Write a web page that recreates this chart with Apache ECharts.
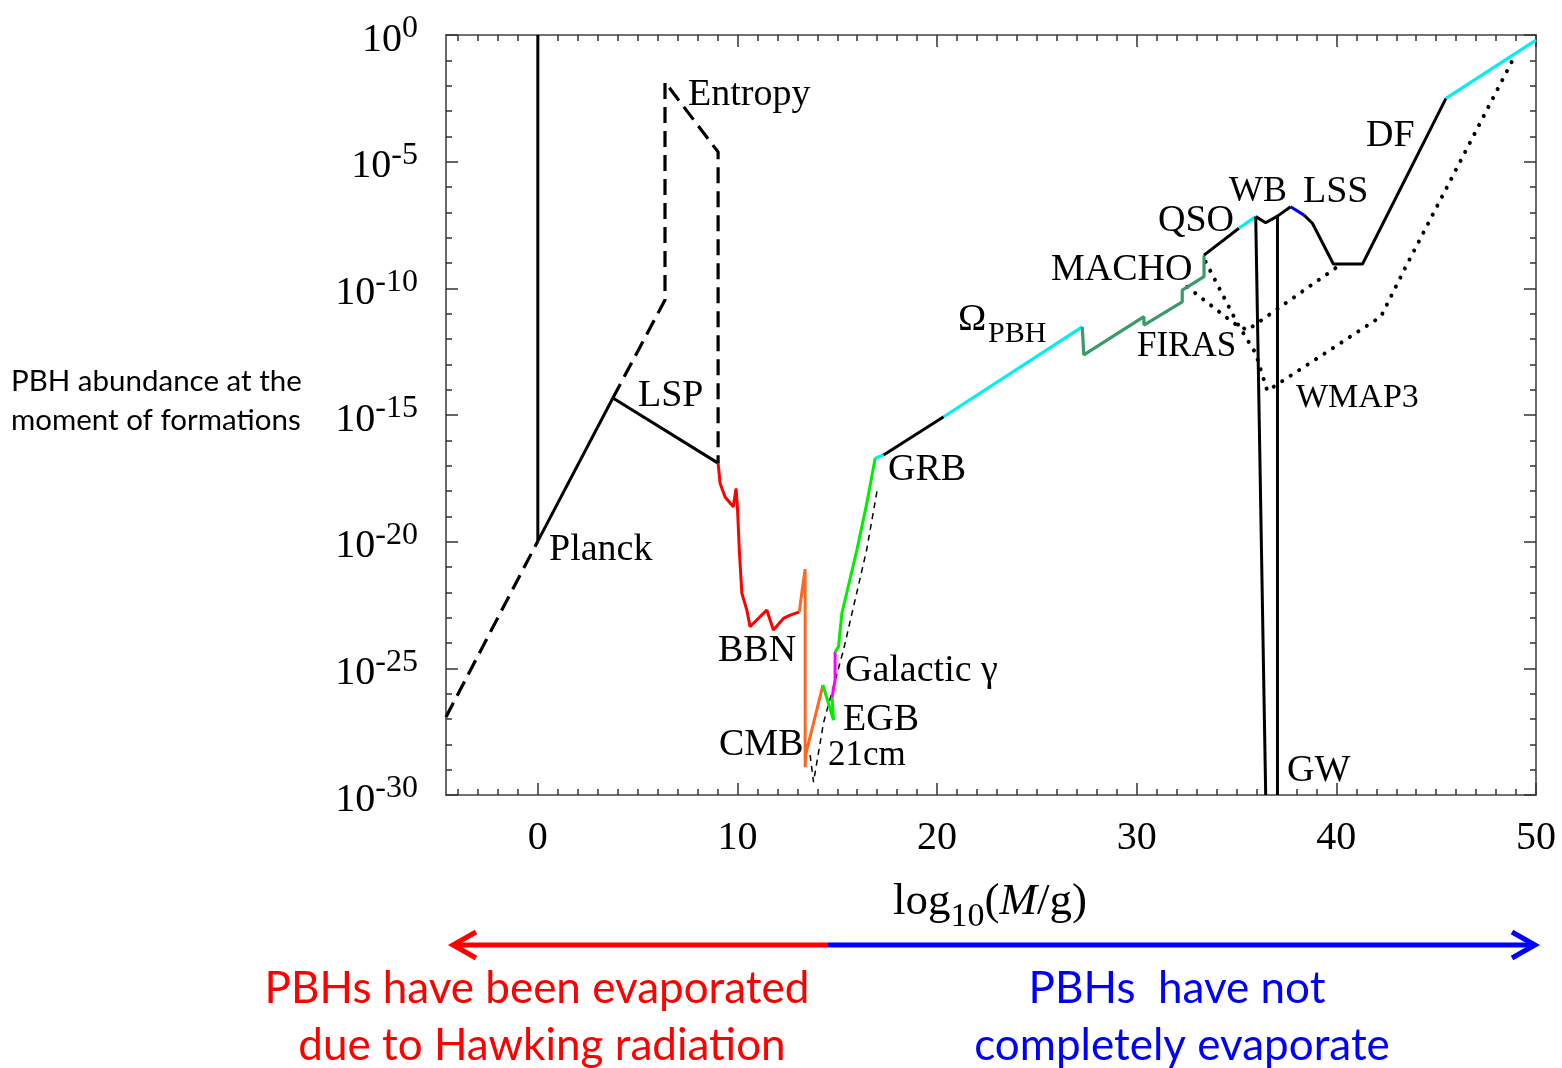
<!DOCTYPE html>
<html>
<head>
<meta charset="utf-8">
<script src="https://cdn.jsdelivr.net/npm/echarts@6/dist/echarts.min.js"></script>
<style>
html, body { margin: 0; padding: 0; background: #fff; }
#chart { width: 1562px; height: 1068px; }
</style>
</head>
<body>
<div id="chart"></div>
<script>
// x = log10(M/g), y = log10(PBH abundance at formation)
const xMajorTicks = [0, 10, 20, 30, 40, 50];
const xMinorTicks = [-4, -3, -2, -1, 0, 1, 2, 3, 4, 5, 6, 7, 8, 9, 10, 11, 12, 13, 14, 15, 16, 17, 18, 19, 20,
  21, 22, 23, 24, 25, 26, 27, 28, 29, 30, 31, 32, 33, 34, 35, 36, 37, 38, 39, 40, 41, 42, 43, 44, 45, 46, 47, 48, 49, 50];

const planckLimit = [[0, 0], [0, -19.98]];
const lowMassExtension = [[-4.6, -26.92], [0, -19.98]];
const planckToLsp = [[0, -19.98], [3.76, -14.33]];
const entropyBound = [[3.76, -14.33], [6.37, -10.46], [6.37, -1.86], [9.03, -4.62], [9.03, -16.90]];
const lspBound = [[3.76, -14.33], [9.03, -16.90]];
const bbnBound = [[9.03, -16.90], [9.13, -17.69], [9.38, -18.24], [9.79, -18.62], [9.93, -17.90], [10.0, -18.67],
  [10.1, -20.45], [10.22, -22.03], [10.47, -22.70], [10.63, -23.36], [10.88, -23.16], [11.30, -22.83],
  [11.47, -22.70], [11.80, -23.49], [12.30, -23.03], [12.64, -22.90], [13.10, -22.77]];
const cmbBound = [[13.10, -22.77], [13.22, -22.03], [13.39, -21.09], [13.39, -28.90], [13.42, -28.40], [14.28, -25.66]];
const egbBound = [[14.28, -25.66], [14.81, -27.04], [14.74, -26.14]];
const galacticBound = [[14.74, -26.14], [14.89, -25.46], [14.89, -24.36]];
const gammaBound = [[14.89, -24.36], [15.06, -24.15], [15.23, -22.83], [15.98, -20.33], [16.48, -18.48], [16.90, -16.70]];
const grbJoin = [[16.90, -16.70], [17.32, -16.58]];
const grbBound = [[17.32, -16.58], [20.33, -15.07]];
const omegaBound = [[20.33, -15.07], [27.27, -11.52]];
const machoBound = [[27.27, -11.52], [27.35, -12.63], [30.36, -11.12], [30.36, -11.45], [32.28, -10.53],
  [32.28, -10.07], [33.37, -9.54], [33.37, -8.69]];
const qsoBound = [[33.37, -8.69], [35.12, -7.63]];
const wbBound = [[35.12, -7.63], [35.96, -7.17]];
const wbLssBound = [[35.96, -7.17], [36.46, -7.41], [37.05, -7.15], [37.71, -6.78]];
const lssBound = [[37.71, -6.78], [38.38, -7.11]];
const dfBound = [[38.38, -7.11], [38.80, -7.43], [39.85, -9.04], [41.31, -9.04], [45.49, -2.50]];
const dfUpper = [[45.49, -2.50], [50, -0.2]];
const gwLeft = [[35.96, -7.17], [36.46, -30]];
const gwRight = [[37.05, -7.15], [37.05, -30]];
const wmap3Bound = [[33.45, -8.95], [35.04, -11.38], [35.96, -12.57], [36.54, -14.05], [42.23, -11.12],
  [43.39, -9.28], [48.83, -0.99]];
const firasBound = [[32.53, -9.94], [34.85, -11.37], [35.54, -11.65], [40.05, -9.15]];
const cm21Bound = [[13.64, -28.42], [13.81, -29.49], [14.31, -27.15], [15.31, -24.28], [16.47, -20.33], [17.0, -17.96]];

const serif = '"Liberation Serif", "Times New Roman", serif';
const sans = 'Lato, "Open Sans", sans-serif';

const dotted = [0.1, 10];
const dashed = [16, 8];

function line(data, color, width, type, z) {
  return {
    type: 'line',
    data: data,
    symbol: 'none',
    animation: false,
    z: z || 2,
    lineStyle: { color: color, width: width, type: type || 'solid', cap: type === dotted ? 'round' : 'butt' }
  };
}

function label(text, x, y, size) {
  return {
    type: 'text', x: x, y: y, z: 10,
    style: { text: text, font: (size || 38) + 'px ' + serif, fill: '#000', verticalAlign: 'middle' }
  };
}

const myCharts = echarts.init(document.getElementById('chart'));

const tickBase = { show: true, inside: true, lineStyle: { color: '#333', width: 1.5 } };
const axisLineStyle = { show: true, onZero: false, lineStyle: { color: '#444', width: 1.6 } };

function xAxisPair(position, withLabels) {
  return [{
    type: 'value', position: position, min: -4.6, max: 50,
    axisLine: axisLineStyle,
    axisTick: Object.assign({}, tickBase, { length: 12, customValues: xMajorTicks }),
    axisLabel: withLabels ? {
      show: true, customValues: xMajorTicks, margin: 23,
      fontSize: 40, fontFamily: serif, color: '#000'
    } : { show: false },
    splitLine: { show: false }
  }, {
    type: 'value', position: position, min: -4.6, max: 50,
    axisLine: { show: false, onZero: false },
    axisTick: Object.assign({}, tickBase, { length: 6, customValues: xMinorTicks }),
    axisLabel: { show: false },
    splitLine: { show: false }
  }];
}

function yAxis(position, withLabels) {
  return {
    type: 'value', position: position, min: -30, max: 0, interval: 5,
    axisLine: axisLineStyle,
    axisTick: Object.assign({}, tickBase, { length: 12 }),
    minorTick: { show: true, splitNumber: 5, length: 6, lineStyle: { color: '#333', width: 1.5 } },
    splitLine: { show: false },
    minorSplitLine: { show: false },
    axisLabel: withLabels ? {
      show: true, margin: 28,
      formatter: function (v) { return '{b|10}{s|' + v + '}'; },
      rich: {
        b: { fontSize: 40, fontFamily: serif, color: '#000', padding: [10, 0, 0, 0] },
        s: { fontSize: 32, fontFamily: serif, color: '#000', padding: [0, 0, 12, 0] }
      }
    } : { show: false }
  };
}

const option = {
  backgroundColor: '#fff',
  animation: false,
  grid: { left: 446, top: 35, width: 1090, height: 760, containLabel: false },
  xAxis: xAxisPair('bottom', true).concat(xAxisPair('top', false)),
  yAxis: [yAxis('left', true), yAxis('right', false)],
  series: [
    line(planckLimit, '#000', 3),
    line(lowMassExtension, '#000', 3.2, dashed),
    line(planckToLsp, '#000', 3),
    line(entropyBound, '#000', 3.2, dashed),
    line(lspBound, '#000', 3),
    line(bbnBound, '#ff0000', 3),
    line(cmbBound, '#ff6620', 3),
    line(egbBound, '#00ee00', 3),
    line(galacticBound, '#ff00ff', 3),
    line(gammaBound, '#00ee00', 3),
    line(grbJoin, '#00eeee', 3),
    line(grbBound, '#000', 3),
    line(omegaBound, '#00f0f0', 3.2),
    line(machoBound, '#3c9a68', 3.2),
    line(qsoBound, '#000', 3),
    line(wbBound, '#00f0f0', 3.2),
    line(wbLssBound, '#000', 3),
    line(lssBound, '#0000ff', 3),
    line(dfBound, '#000', 3),
    line(dfUpper, '#00f0f0', 3.2),
    line(wmap3Bound, '#000', 4, dotted, 1),
    line(firasBound, '#000', 4, dotted, 1),
    line(cm21Bound, '#000', 1.5, [6, 5], 1),
    line(gwLeft, '#000', 3, 'solid', 3),
    line(gwRight, '#000', 3, 'solid', 3)
  ],
  graphic: [
    label('Entropy', 688, 95),
    label('LSP', 638, 396),
    label('Planck', 549, 550),
    label('BBN', 718, 651),
    label('CMB', 719, 745),
    label('21cm', 828, 756, 35),
    label('EGB', 843, 720),
    label('Galactic \u03b3', 845, 671),
    label('GRB', 888, 470),
    label('\u03a9', 958, 320),
    label('PBH', 988, 334, 30),
    label('MACHO', 1051, 270),
    label('FIRAS', 1137, 347, 35),
    label('QSO', 1158, 221),
    label('WB', 1229, 192, 36),
    label('LSS', 1303, 192),
    label('WMAP3', 1296, 398, 34),
    label('DF', 1366, 136),
    label('GW', 1287, 771),
    {
      type: 'text', x: 990, y: 902, z: 10,
      style: {
        text: '{n|log}{sub|10}{n|(}{it|M}{n|/g)}',
        align: 'center', verticalAlign: 'middle',
        rich: {
          n: { fontSize: 45, fontFamily: serif, color: '#000' },
          it: { fontSize: 45, fontFamily: serif, fontStyle: 'italic', color: '#000' },
          sub: { fontSize: 34, fontFamily: serif, color: '#000', padding: [30, 0, 0, 0] }
        }
      }
    },
    {
      type: 'text', x: 11, y: 401, z: 10,
      style: {
        text: 'PBH abundance at the\nmoment of formations',
        font: '29.5px ' + sans, fill: '#000', lineHeight: 39, verticalAlign: 'middle'
      }
    },
    { type: 'polyline', z: 10, shape: { points: [[828, 945], [455, 945]] }, style: { stroke: '#ff0000', lineWidth: 5, fill: null } },
    { type: 'polyline', z: 10, shape: { points: [[476, 932], [453, 945], [476, 958]] }, style: { stroke: '#ff0000', lineWidth: 5, fill: null } },
    { type: 'polyline', z: 10, shape: { points: [[828, 945], [1532, 945]] }, style: { stroke: '#0000ff', lineWidth: 5, fill: null } },
    { type: 'polyline', z: 10, shape: { points: [[1512, 932], [1535, 945], [1512, 958]] }, style: { stroke: '#0000ff', lineWidth: 5, fill: null } },
    {
      type: 'text', x: 537, y: 989, z: 10,
      style: { text: 'PBHs have been evaporated', font: '44px ' + sans, fill: '#ff0000', align: 'center', verticalAlign: 'middle' }
    },
    {
      type: 'text', x: 542, y: 1046, z: 10,
      style: { text: 'due to Hawking radiation', font: '44px ' + sans, fill: '#ff0000', align: 'center', verticalAlign: 'middle' }
    },
    {
      type: 'text', x: 1177, y: 989, z: 10,
      style: { text: 'PBHs  have not', font: '44px ' + sans, fill: '#0000ff', align: 'center', verticalAlign: 'middle' }
    },
    {
      type: 'text', x: 1182, y: 1046, z: 10,
      style: { text: 'completely evaporate', font: '44px ' + sans, fill: '#0000ff', align: 'center', verticalAlign: 'middle' }
    }
  ]
};

myCharts.setOption(option);
</script>
</body>
</html>
